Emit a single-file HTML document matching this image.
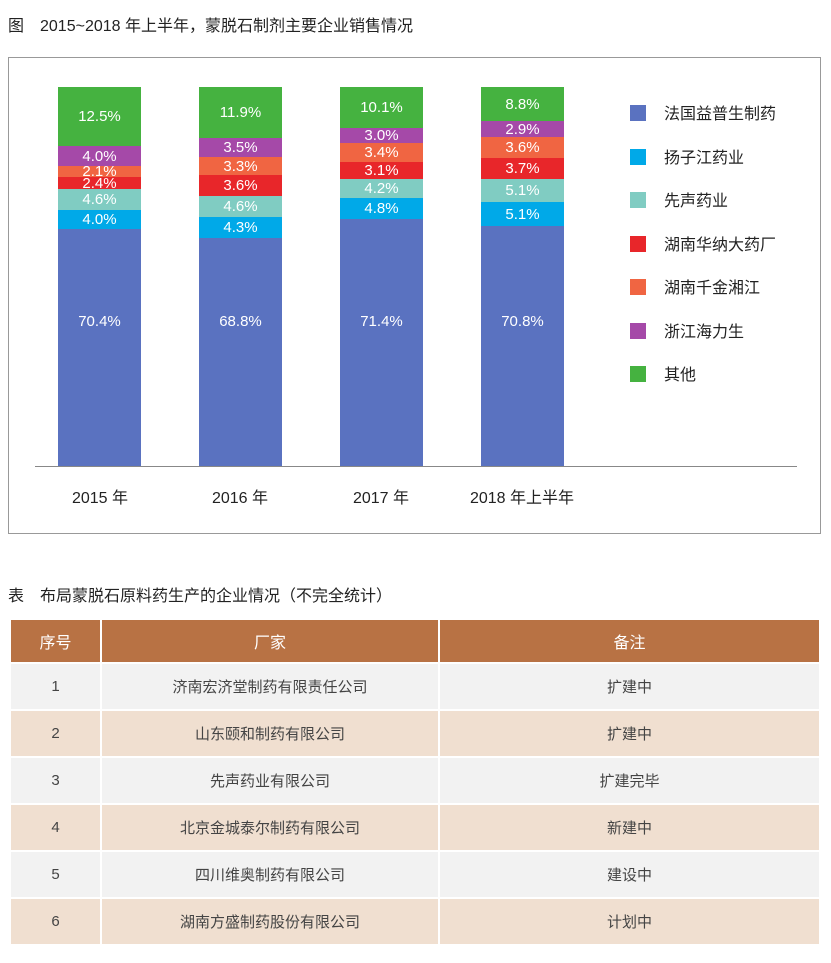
<!DOCTYPE html>
<html><head><meta charset="utf-8"><style>
body{margin:0;width:831px;height:963px;background:#fff;font-family:"Liberation Sans","Noto Sans CJK SC",sans-serif;position:relative;overflow:hidden;color:#222}
.a{position:absolute}
.seg{position:absolute;color:#fff;font-size:15px;text-align:center;display:flex;align-items:center;justify-content:center;overflow:visible;white-space:nowrap}
.lg{position:absolute;left:630px;width:16px;height:16px}
.lt{position:absolute;left:664px;font-size:16px}
.xl{position:absolute;top:484px;font-size:16px;text-align:center;width:160px}
table{position:absolute;left:9px;top:618px;width:812px;border-collapse:collapse;font-size:15px;color:#444;table-layout:fixed}
td{border:2px solid #fff;text-align:center;height:45px;padding:0}
th{border:2px solid #fff;background:#b87244;color:#fff;font-weight:normal;font-size:16px;height:42px;padding:0}
tr.g td{background:#f2f2f2}tr.b td{background:#f0dfd0}
</style></head><body>
<div class="a" style="left:8px;top:12px;font-size:16px">图　2015~2018 年上半年，蒙脱石制剂主要企业销售情况</div>
<div class="a" style="left:8px;top:57px;width:813px;height:477px;border:1px solid #999;box-sizing:border-box"></div>
<div class="a" style="left:35px;top:466px;width:762px;height:1px;background:#888"></div>
<div id="bars"></div>
<script>
var C=["#5a72c0","#00a9e8","#80ccc2","#e8262a","#f06542","#a549a8","#45b240"];
var B=[[58,[466,229,210,189,177,166,146,87],["70.4%","4.0%","4.6%","2.4%","2.1%","4.0%","12.5%"]],
[199,[466,238,217,196,175,157,138,87],["68.8%","4.3%","4.6%","3.6%","3.3%","3.5%","11.9%"]],
[340,[466,219,198,179,162,143,128,87],["71.4%","4.8%","4.2%","3.1%","3.4%","3.0%","10.1%"]],
[481,[466,226,202,179,158,137,121,87],["70.8%","5.1%","5.1%","3.7%","3.6%","2.9%","8.8%"]]];
var h="";
B.forEach(function(b){for(var i=0;i<7;i++){var t=b[1][i+1],bt=b[1][i];
var inner=i==0?'<span style="position:absolute;left:0;right:0;top:'+(322-t-9)+'px">'+b[2][i]+'</span>':b[2][i];
h+='<div class="seg" style="left:'+b[0]+'px;top:'+t+'px;width:83px;height:'+(bt-t)+'px;background:'+C[i]+'">'+inner+'</div>';}});
var L=["法国益普生制药","扬子江药业","先声药业","湖南华纳大药厂","湖南千金湘江","浙江海力生","其他"];
L.forEach(function(n,i){var y=105+i*43.5;h+='<div class="lg" style="top:'+y+'px;background:'+C[i]+'"></div><div class="lt" style="top:'+(y-5)+'px">'+n+'</div>';});
document.getElementById("bars").innerHTML=h;
</script>
<div class="xl" style="left:20px">2015 年</div>
<div class="xl" style="left:160px">2016 年</div>
<div class="xl" style="left:301px">2017 年</div>
<div class="xl" style="left:442px">2018 年上半年</div>
<div class="a" style="left:8px;top:582px;font-size:16px">表　布局蒙脱石原料药生产的企业情况（不完全统计）</div>
<table>
<colgroup><col style="width:91px"><col style="width:338px"><col></colgroup>
<tr><th>序号</th><th>厂家</th><th>备注</th></tr>
<tr class="g"><td>1</td><td>济南宏济堂制药有限责任公司</td><td>扩建中</td></tr>
<tr class="b"><td>2</td><td>山东颐和制药有限公司</td><td>扩建中</td></tr>
<tr class="g"><td>3</td><td>先声药业有限公司</td><td>扩建完毕</td></tr>
<tr class="b"><td>4</td><td>北京金城泰尔制药有限公司</td><td>新建中</td></tr>
<tr class="g"><td>5</td><td>四川维奥制药有限公司</td><td>建设中</td></tr>
<tr class="b"><td>6</td><td>湖南方盛制药股份有限公司</td><td>计划中</td></tr>
</table>
</body></html>
